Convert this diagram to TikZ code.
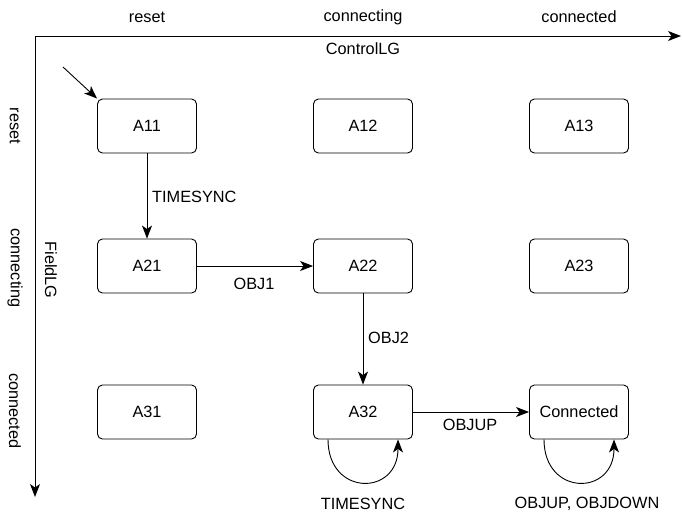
\documentclass[tikz,border=0pt]{standalone}
\usepackage{fontspec}
\setmainfont{Liberation Sans}
\usetikzlibrary{arrows.meta}
\begin{document}
\begin{tikzpicture}[x=1pt,y=-1pt,
  state/.style={draw,rounded corners=5pt,minimum width=99pt,minimum height=54pt,inner sep=0pt,font=\fontsize{16.3}{19}\selectfont,line width=0.9pt},
  lbl/.style={inner sep=0pt,font=\fontsize{16.3}{19}\selectfont},
  arr/.style={-{Stealth[length=13pt,width=10pt,inset=3.5pt]},line width=0.9pt},
  axis/.style={-{Stealth[length=13pt,width=10pt,inset=3.5pt]},line width=1pt}]
\useasboundingbox (0,0) rectangle (682,520);
% axes
\coordinate (o) at (35,36);
\coordinate (xend) at (681,36);
\coordinate (yend) at (35,497);
\draw[axis] (o) -- (xend);
\draw[axis] (o) -- (yend);
% column and row captions
\node[lbl] (c1) at (147,17) {reset};
\node[lbl] (c2) at (363,17) {connecting};
\node[lbl] (c3) at (579,17) {connected};
\node[lbl] (ctl) at (363,49) {ControlLG};
\node[lbl,rotate=-90] (r1) at (15,126) {reset};
\node[lbl,rotate=-90] (r2) at (15,268) {connecting};
\node[lbl,rotate=-90] (r3) at (15,411) {connected};
\node[lbl,rotate=-90] (fld) at (51,270) {FieldLG};
% states
\node[state] (a11) at (147,126) {A11};
\node[state] (a12) at (363,126) {A12};
\node[state] (a13) at (579,126) {A13};
\node[state] (a21) at (147,266) {A21};
\node[state] (a22) at (363,266) {A22};
\node[state] (a23) at (579,266) {A23};
\node[state] (a31) at (147,412) {A31};
\node[state] (a32) at (363,412) {A32};
\node[state] (con) at (579,412) {Connected};
% initial arrow
\coordinate (init) at (63,67);
\draw[arr] (init) -- (a11.north west);
% transitions
\draw[arr] (a11) -- (a21);
\node[lbl,anchor=west] (t1) at (152,197) {TIMESYNC};
\draw[arr] (a21) -- (a22);
\node[lbl] (t2) at (254,284) {OBJ1};
\draw[arr] (a22) -- (a32);
\node[lbl,anchor=west] (t3) at (368,338) {OBJ2};
\draw[arr] (a32) -- (con);
\node[lbl] (t4) at (470,425) {OBJUP};
% self loops
\draw[arr] ([xshift=-35pt]a32.south) .. controls +(0,57) and +(0,57) .. ([xshift=35pt]a32.south);
\node[lbl] (t5) at (363,504) {TIMESYNC};
\draw[arr] ([xshift=-35pt]con.south) .. controls +(0,57) and +(0,57) .. ([xshift=35pt]con.south);
\node[lbl] (t6) at (587,504) {OBJUP, OBJDOWN};
\end{tikzpicture}
\end{document}
